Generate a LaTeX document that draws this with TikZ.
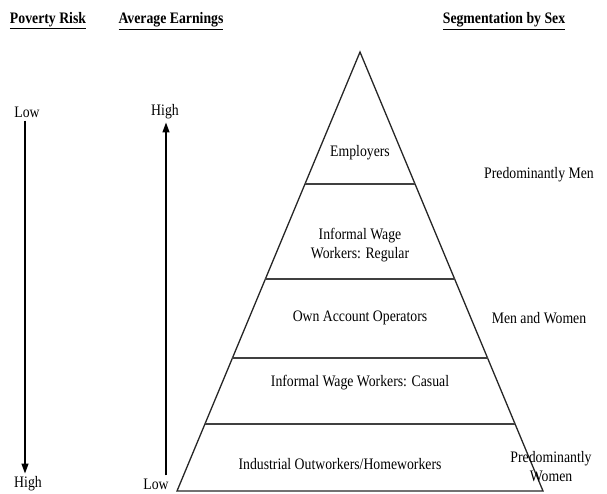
\documentclass[tikz,border=0pt]{standalone}
\usepackage{fontspec}
\setmainfont{Liberation Serif}[FakeStretch=0.86]
\usetikzlibrary{calc,arrows.meta}

\tikzset{
  txt/.style={font=\fontsize{16}{19}\selectfont, align=center, inner sep=3pt},
  head/.style={font=\bfseries\fontsize{16}{18}\selectfont, inner sep=0pt},
  trend/.style={line width=1.4pt, -{Triangle[length=10pt,width=7pt]}},
  pyramid/.style={line width=1.3pt, black!85, line join=miter},
  divider/.style={line width=1.6pt, black!75}
}

\begin{document}
\begin{tikzpicture}[x=1pt,y=-1pt]
    \useasboundingbox (0,0) rectangle (607,493);
    % column headings
    \node[head] (hRisk) at (48,21) {\underline{Poverty Risk}};
    \node[head] (hEarn) at (171,21) {\underline{Average Earnings}};
    \node[head] (hSex) at (504,21) {\underline{Segmentation by Sex}};
    % poverty risk scale
    \node[txt] (riskLow) at (27,112) {Low};
    \node[txt] (riskHigh) at (28,484) {High};
    \draw[trend] (riskLow.south -| 25,0) -- (riskHigh.north -| 25,0);
    % earnings scale
    \node[txt] (earnHigh) at (165,112) {High};
    \node[txt] (earnLow) at (156,484) {Low};
    \draw[trend] (earnLow.north -| 166,0) -- (earnHigh.south -| 166,0);
    % pyramid
    \coordinate (apex) at (360,52);
    \coordinate (baseL) at (177,491);
    \coordinate (baseR) at (543,491);
    \draw[pyramid] (apex) -- (baseL) -- (baseR) -- cycle;
    \foreach \t in {0.3007,0.517,0.697,0.847}
        \draw[divider] ($(apex)!\t!(baseL)$) -- ($(apex)!\t!(baseR)$);
    % layers
    \node[txt] (employers) at (360,153) {Employers};
    \node[txt] (regular) at (360,245) {Informal Wage\\Workers: Regular};
    \node[txt] (ownAcc) at (360,318) {Own Account Operators};
    \node[txt] (casual) at (360,383) {Informal Wage Workers: Casual};
    \node[txt] (outwork) at (340,464) {Industrial Outworkers/Homeworkers};
    % segmentation
    \node[txt] (men) at (539,175) {Predominantly Men};
    \node[txt] (both) at (539,318) {Men and Women};
    \node[txt] (women) at (551,467) {Predominantly\\Women};
\end{tikzpicture}
\end{document}
